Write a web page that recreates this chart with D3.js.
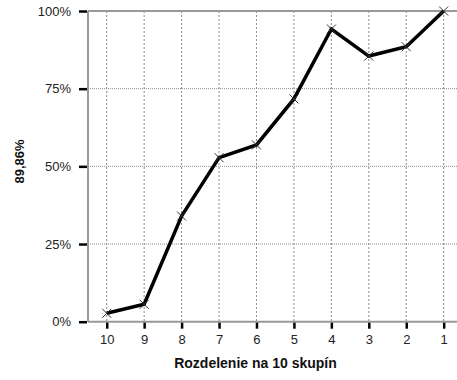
<!DOCTYPE html>
<html><head><meta charset="utf-8">
<script src="https://cdn.jsdelivr.net/npm/d3@7/dist/d3.min.js"></script>
<style>body{margin:0;background:#fff}svg{display:block;font-family:"Liberation Sans",Arial,sans-serif}</style>
</head><body><svg id="c" width="457" height="380"></svg>
<script>
const categories = ["10","9","8","7","6","5","4","3","2","1"];
const values = [2.7, 5.6, 34.0, 52.8, 56.9, 71.7, 94.2, 85.5, 88.5, 100];
const yTicks = [0, 25, 50, 75, 100];
const yTitle = "89,86%";
const xTitle = "Rozdelenie na 10 skupín";

const svg = d3.select("#c");
const L = 88, R = 462.4, T = 11, B = 321.7;
const x = d3.scalePoint().domain(categories).range([L, R]).padding(0.5);
const y = d3.scaleLinear().domain([0, 100]).range([B, T]);

// grid
svg.append("g").selectAll("line").data(yTicks.filter(d => d > 0 && d < 100)).join("line")
  .attr("x1", L).attr("x2", 457).attr("y1", d => y(d)).attr("y2", d => y(d))
  .attr("stroke", "#8a8a8a").attr("stroke-width", 1).attr("stroke-dasharray", "1,1");
svg.append("g").selectAll("line").data(categories).join("line")
  .attr("x1", d => x(d)).attr("x2", d => x(d)).attr("y1", T).attr("y2", B)
  .attr("stroke", "#8a8a8a").attr("stroke-width", 1).attr("stroke-dasharray", "2,2");

// frame lines (gray)
svg.append("line").attr("x1", L).attr("x2", 457).attr("y1", T).attr("y2", T).attr("stroke", "#999").attr("stroke-width", 2);
svg.append("line").attr("x1", L).attr("x2", 457).attr("y1", B).attr("y2", B).attr("stroke", "#999").attr("stroke-width", 2);
svg.append("line").attr("x1", L).attr("x2", L).attr("y1", T).attr("y2", B).attr("stroke", "#999").attr("stroke-width", 2);

// axes
const yAxis = svg.append("g").attr("transform", `translate(${L - 1},0)`)
  .call(d3.axisLeft(y).tickValues(yTicks).tickFormat(d => d + "%").tickSize(8).tickPadding(8));
yAxis.select(".domain").remove();
yAxis.selectAll(".tick line").attr("stroke", "#000").attr("stroke-width", 2.5);
yAxis.selectAll("text").attr("font-size", 13).attr("fill", "#222");

const xAxis = svg.append("g").attr("transform", `translate(0,${B + 1})`)
  .call(d3.axisBottom(x).tickSize(6).tickPadding(6));
xAxis.select(".domain").remove();
xAxis.selectAll(".tick line").attr("stroke", "#000").attr("stroke-width", 2.5);
xAxis.selectAll("text").attr("font-size", 13).attr("fill", "#222");

// line
svg.append("path").datum(values)
  .attr("d", d3.line().x((d, i) => x(categories[i])).y(d => y(d)))
  .attr("fill", "none").attr("stroke", "#000").attr("stroke-width", 3.5).attr("stroke-linejoin", "miter");

// markers
svg.append("g").selectAll("path").data(values).join("path")
  .attr("transform", (d, i) => `translate(${x(categories[i])},${y(d)})`)
  .attr("d", "M-4.5,-4.5L4.5,4.5M-4.5,4.5L4.5,-4.5")
  .attr("stroke", "#333").attr("stroke-width", 1);

// titles
svg.append("text").attr("x", 255.5).attr("y", 368).attr("text-anchor", "middle")
  .attr("font-size", 14).attr("font-weight", "bold").attr("fill", "#111").text(xTitle);
svg.append("text").attr("transform", "translate(24,161.5) rotate(-90)").attr("text-anchor", "middle")
  .attr("font-size", 13).attr("font-weight", "bold").attr("fill", "#111").text(yTitle);
</script></body></html>
